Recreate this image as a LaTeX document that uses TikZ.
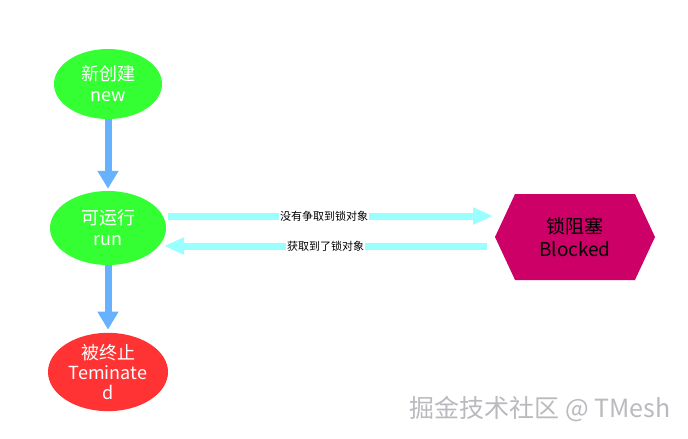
\documentclass[tikz,border=0pt]{standalone}
\usepackage{fontspec}
\setmainfont{Noto Sans CJK SC}
\usetikzlibrary{arrows.meta,shapes.symbols,shapes.geometric}
\begin{document}
\begin{tikzpicture}[x=1pt,y=-1pt,
  st/.style={ellipse,draw=none,text=white,font=\fontsize{18}{21}\selectfont,align=center,inner sep=0pt},
  down/.style={draw={rgb,255:red,102;green,178;blue,255},line width=7pt,-{Triangle[length=18pt,width=20pt]}},
  side/.style={draw={rgb,255:red,153;green,255;blue,255},line width=7pt,-{Triangle[length=20pt,width=16pt]}},
  lab/.style={fill=white,inner sep=1pt,font=\fontsize{11}{12}\selectfont}]
\useasboundingbox (0,0) rectangle (688,439);
\definecolor{gr}{RGB}{51,255,51}
\definecolor{rd}{RGB}{255,51,51}
\definecolor{mg}{RGB}{204,0,102}
\node[st,fill=gr,minimum width=108pt,minimum height=70pt] (new) at (108,84) {新创建\\new};
\node[st,fill=gr,minimum width=116pt,minimum height=74pt] (run) at (108,228) {可运行\\run};
\node[st,fill=rd,minimum width=120pt,minimum height=70pt,font=\fontsize{18}{20}\selectfont] (term) at (108,372) {被终止\\Teminate\\d};
\node[signal,signal to=east and west,signal pointer angle=130,fill=mg,minimum width=160pt,minimum height=86pt,align=center,font=\fontsize{19}{23}\selectfont,inner sep=0pt] (blk) at (575,237) {锁阻塞\\Blocked};
\draw[down] (new.south) -- ([yshift=2pt]run.north);
\draw[down] (run.south) -- ([yshift=3pt]term.north);
\coordinate (a1) at (168,216); \coordinate (a2) at (493,216);
\coordinate (b1) at (487,246); \coordinate (b2) at (164,246);
\draw[side] (a1) -- (a2) node[lab,pos=0.48] {没有争取到锁对象};
\draw[side] (b1) -- (b2) node[lab,pos=0.5] {获取到了锁对象};
\node[text={rgb,255:red,185;green,185;blue,190},font=\fontsize{25}{28}\selectfont,anchor=east] (wm) at (674,409) {掘金技术社区 @ TMesh};
\end{tikzpicture}
\end{document}
